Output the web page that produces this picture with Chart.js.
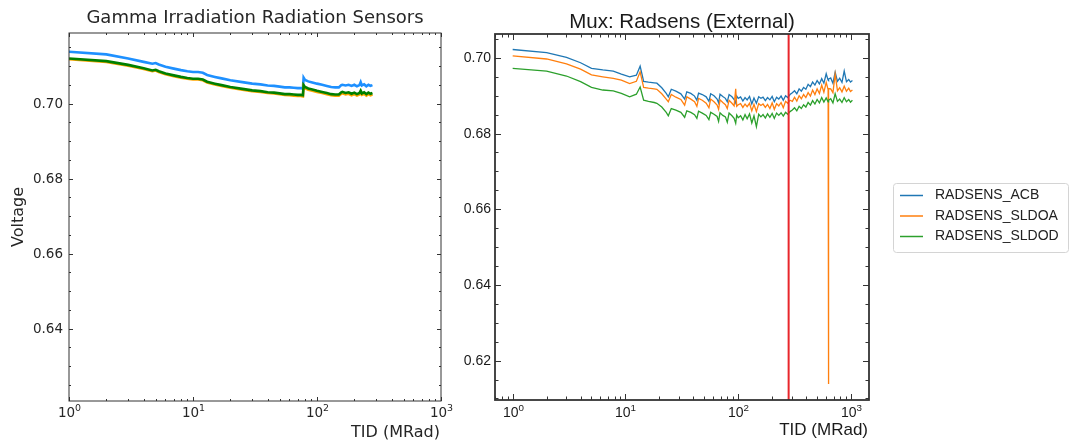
<!DOCTYPE html>
<html>
<head>
<meta charset="utf-8">
<script src="https://cdn.jsdelivr.net/npm/chart.js@4.4.1/dist/chart.umd.min.js"></script>
<style>
  html, body { margin: 0; padding: 0; background: #fff; }
  #marco { position: relative; width: 1070px; height: 443px; }
  canvas { position: absolute; left: 0; top: 0; }
</style>
</head>
<body>
<div id="marco">
  <canvas id="graficaIzq" width="1070" height="443"></canvas>
  <canvas id="graficaDer" width="1070" height="443"></canvas>
</div>
<script>
// ---- datos grafica izquierda (Gamma Irradiation) ----
const dosisIzq = [
  1, 2, 3, 4, 4.7, 5, 5.3, 6, 7, 8,
  9, 10, 11, 12, 13, 15, 17, 20, 25, 30,
  35, 40, 45, 50, 55, 60, 65, 70, 74, 77,
  78, 80, 85, 90, 95, 100, 110, 120, 130, 140,
  150, 157, 160, 170, 180, 190, 200, 210, 220, 225,
  230, 240, 250, 260, 270, 280
];
const azulIzq = [
  .7138, .7131, .7120, .7111, .7106, .7108, .7104, .7098, .7093, .7089,
  .7086, .7084, .7084, .7082, .7076, .7071, .7067, .7062, .7057, .7053,
  .7051, .7048, .7047, .7045, .7043, .7043, .7042, .7041, .7041, .7040,
  .7069, .7063, .7059, .7057, .7055, .7053, .7050, .7047, .7044, .7043,
  .7043, .7049, .7050, .7048, .7050, .7047, .7050, .7046, .7049, .7057,
  .7048, .7051, .7046, .7050, .7047, .7049
];
const naranjaIzq = [
  .7118, .7111, .7101, .7092, .7086, .7088, .7084, .7078, .7073, .7069,
  .7066, .7064, .7064, .7062, .7056, .7051, .7047, .7042, .7037, .7033,
  .7031, .7028, .7027, .7025, .7023, .7022, .7021, .7020, .7020, .7019,
  .7046, .7041, .7037, .7035, .7033, .7031, .7028, .7025, .7022, .7021,
  .7021, .7026, .7027, .7024, .7026, .7022, .7025, .7021, .7024, .7028,
  .7023, .7026, .7021, .7025, .7022, .7024
];
const verdeIzq = [
  .7120, .7113, .7103, .7094, .7088, .7090, .7086, .7080, .7075, .7071,
  .7068, .7066, .7066, .7064, .7058, .7053, .7049, .7044, .7039, .7035,
  .7033, .7030, .7029, .7027, .7025, .7025, .7024, .7023, .7023, .7022,
  .7049, .7044, .7040, .7038, .7036, .7034, .7031, .7028, .7025, .7024,
  .7024, .7030, .7031, .7028, .7030, .7026, .7029, .7025, .7028, .7034,
  .7027, .7030, .7025, .7029, .7026, .7028
];
const ticksYIzq = [0.64, 0.66, 0.68, 0.70];

// ---- datos grafica derecha (Mux: Radsens) ----
const dosisDer = [
  1, 2, 3, 4, 5, 6.3, 7.8, 9.2, 10.9, 12.5,
  13.5, 14.5, 16, 18, 19, 21, 23, 24, 25.5, 28,
  31, 33.5, 35, 38, 41, 43, 44.5, 48, 52, 55,
  57, 61, 65, 67, 69, 73, 77, 80, 83, 88,
  92, 95, 97, 100, 105, 110, 115, 120, 126, 132,
  138, 145, 152, 159, 166, 174, 182, 191, 200, 209,
  219, 229, 240, 251, 263, 275, 288, 302, 316, 331,
  347, 363, 380, 398, 417, 437, 457, 479, 501, 525,
  550, 575, 603, 627, 631, 635, 661, 692, 724, 759, 794, 832,
  871, 912, 955, 990, 1030
];
const radsensACB = [
  .7022, .7014, .7001, .6987, .6972, .6968, .6965, .6957, .6950, .6954,
  .6978, .6938, .6936, .6934, .6933, .6921, .6906, .6897, .6917, .6912,
  .6905, .6891, .6910, .6906, .6899, .6888, .6907, .6903, .6897, .6885,
  .6905, .6900, .6891, .6881, .6904, .6898, .6893, .6884, .6903, .6897,
  .6890, .6881, .6899, .6893, .6897, .6886, .6895, .6889, .6898, .6878,
  .6894, .6880, .6897, .6893, .6896, .6887, .6895, .6889, .6898, .6884,
  .6896, .6891, .6899, .6888, .6900, .6895, .6903, .6908, .6913, .6905,
  .6918, .6912, .6922, .6917, .6930, .6924, .6936, .6928, .6940, .6931,
  .6945, .6933, .6958, .6941, .6940, .6944, .6947, .6933, .6962, .6938, .6946, .6935,
  .6965, .6937, .6943, .6936, .6940
];
const radsensSLDOA = [
  .7005, .6997, .6984, .6970, .6955, .6950, .6946, .6941, .6932, .6938,
  .6963, .6922, .6920, .6918, .6917, .6905, .6891, .6884, .6903, .6896,
  .6890, .6875, .6897, .6891, .6884, .6872, .6893, .6888, .6880, .6868,
  .6891, .6884, .6875, .6864, .6889, .6882, .6876, .6866, .6888, .6880,
  .6873, .6918, .6872, .6876, .6879, .6869, .6878, .6871, .6880, .6860,
  .6877, .6858, .6879, .6874, .6878, .6869, .6877, .6866, .6881, .6864,
  .6879, .6873, .6882, .6868, .6885, .6880, .6888, .6885, .6896, .6886,
  .6900, .6892, .6903, .6895, .6908, .6899, .6915, .6903, .6918, .6906,
  .6928, .6909, .6935, .6916, .6138, .6919, .6918, .6908, .6957, .6913, .6921, .6910,
  .6925, .6912, .6920, .6911, .6915
];
const radsensSLDOD = [
  .6972, .6965, .6952, .6937, .6922, .6915, .6913, .6906, .6897, .6904,
  .6923, .6888, .6885, .6882, .6880, .6870, .6856, .6847, .6866, .6862,
  .6856, .6843, .6860, .6856, .6850, .6840, .6859, .6854, .6848, .6837,
  .6856, .6851, .6845, .6832, .6855, .6848, .6844, .6830, .6854, .6847,
  .6840, .6827, .6849, .6842, .6847, .6836, .6850, .6839, .6852, .6828,
  .6847, .6818, .6851, .6844, .6850, .6841, .6852, .6843, .6853, .6840,
  .6854, .6848, .6855, .6846, .6856, .6851, .6858, .6862, .6868, .6860,
  .6872, .6866, .6876, .6870, .6882, .6875, .6887, .6878, .6890, .6881,
  .6895, .6883, .6894, .6884, .6886, .6888, .6892, .6881, .6905, .6885, .6891, .6882,
  .6895, .6884, .6890, .6883, .6888
];
const ticksYDer = [0.62, 0.64, 0.66, 0.68, 0.70];
const lineaRoja = [280]; // marca vertical
const ticksX = [1, 10, 100, 1000];

// junta x e y para chart.js
const pares = (xs, ys) => xs.map((x, i) => ({ x: x, y: ys[i] }));

function linea(ctx, x1, y1, x2, y2) {
  ctx.beginPath();
  ctx.moveTo(x1, y1);
  ctx.lineTo(x2, y2);
  ctx.stroke();
}

// etiqueta tipo 10^n
function potencia(ctx, px, y, exp, fuente, tam) {
  ctx.font = tam + "px " + fuente;
  const wBase = ctx.measureText("10").width;
  const tamExp = tam * 0.7;
  ctx.font = tamExp + "px " + fuente;
  const wExp = ctx.measureText(String(exp)).width;
  const x0 = px - (wBase + wExp) / 2;
  ctx.textAlign = "left";
  ctx.textBaseline = "alphabetic";
  ctx.font = tam + "px " + fuente;
  ctx.fillText("10", x0, y);
  ctx.font = tamExp + "px " + fuente;
  ctx.fillText(String(exp), x0 + wBase, y - tam * 0.44);
}

// plugin que dibuja marco, ticks hacia dentro, textos y leyenda
const pluginEjes = {
  id: "ejes",
  afterDatasetsDraw(chart, args, o) {
    const ctx = chart.ctx;
    const a = chart.chartArea;
    const sx = chart.scales.x;
    const sy = chart.scales.y;
    ctx.save();

    (o.marcas || []).forEach((v) => {
      const px = sx.getPixelForValue(v);
      ctx.strokeStyle = "#e8262b";
      ctx.lineWidth = 2;
      linea(ctx, px, a.top, px, a.bottom);
    });

    ctx.strokeStyle = o.colorEje;
    ctx.fillStyle = o.colorTexto;
    ctx.lineWidth = 1;

    // y menores
    const k0 = Math.ceil(sy.min / 0.005 - 1e-6);
    const k1 = Math.floor(sy.max / 0.005 + 1e-6);
    for (let k = k0; k <= k1; k++) {
      const py = Math.round(sy.getPixelForValue(k * 0.005)) + 0.5;
      linea(ctx, a.left, py, a.left + o.menor, py);
      linea(ctx, a.right, py, a.right - o.menor, py);
    }
    // y mayores
    ctx.font = o.tamTick + "px " + o.fuente;
    ctx.textAlign = "right";
    ctx.textBaseline = "middle";
    o.ticksY.forEach((v) => {
      const py = Math.round(sy.getPixelForValue(v)) + 0.5;
      linea(ctx, a.left, py, a.left + o.mayor, py);
      linea(ctx, a.right, py, a.right - o.mayor, py);
      ctx.fillText(v.toFixed(2), a.left - o.sepY, py);
    });

    // x menores (log)
    const d0 = Math.floor(Math.log10(sx.min));
    const d1 = Math.ceil(Math.log10(sx.max));
    for (let d = d0; d <= d1; d++) {
      for (let m = 2; m <= 9; m++) {
        const v = m * Math.pow(10, d);
        if (v < sx.min || v > sx.max) continue;
        const px = Math.round(sx.getPixelForValue(v)) + 0.5;
        linea(ctx, px, a.bottom, px, a.bottom - o.menor);
        linea(ctx, px, a.top, px, a.top + o.menor);
      }
    }
    ticksX.forEach((v) => {
      const px = Math.round(sx.getPixelForValue(v)) + 0.5;
      linea(ctx, px, a.bottom, px, a.bottom - o.mayor);
      linea(ctx, px, a.top, px, a.top + o.mayor);
      potencia(ctx, px, o.baseX, Math.round(Math.log10(v)), o.fuente, o.tamTick);
    });

    // marco
    ctx.lineWidth = o.grosorMarco;
    ctx.strokeRect(a.left, a.top, a.right - a.left, a.bottom - a.top);

    // titulos
    ctx.fillStyle = o.colorTexto;
    ctx.textBaseline = "alphabetic";
    ctx.textAlign = "center";
    ctx.font = o.tamTitulo + "px " + o.fuente;
    ctx.fillText(o.titulo, (a.left + a.right) / 2, o.baseTitulo);
    ctx.textAlign = "right";
    ctx.font = o.tamEje + "px " + o.fuente;
    ctx.fillText("TID (MRad)", a.right - 1, o.baseTituloX);

    if (o.tituloY) {
      ctx.save();
      ctx.translate(o.xTituloY, (a.top + a.bottom) / 2);
      ctx.rotate(-Math.PI / 2);
      ctx.textAlign = "center";
      ctx.textBaseline = "middle";
      ctx.fillText(o.tituloY, 0, 0);
      ctx.restore();
    }

    // leyenda
    if (o.leyenda) {
      const L = o.leyenda;
      ctx.fillStyle = "#fff";
      ctx.strokeStyle = "#d4d4d4";
      ctx.lineWidth = 1;
      ctx.beginPath();
      ctx.roundRect(L.x + 0.5, L.y + 0.5, L.w, L.h, 3);
      ctx.fill();
      ctx.stroke();
      ctx.font = "14px 'Liberation Sans', Arial, sans-serif";
      ctx.textAlign = "left";
      ctx.textBaseline = "middle";
      chart.data.datasets.forEach((ds, i) => {
        const y = L.y + 12.5 + i * 20.5;
        ctx.strokeStyle = ds.borderColor;
        ctx.lineWidth = 1.5;
        linea(ctx, L.x + 7, y, L.x + 30, y);
        ctx.fillStyle = "#222";
        ctx.fillText(ds.label, L.x + 42, y);
      });
    }
    ctx.restore();
  }
};

new Chart(document.getElementById("graficaIzq"), {
  type: "line",
  data: {
    datasets: [
      { label: "azul", data: pares(dosisIzq, azulIzq), borderColor: "#1e90ff", borderWidth: 2.6, order: 3 },
      { label: "naranja", data: pares(dosisIzq, naranjaIzq), borderColor: "#ffa500", borderWidth: 2.6, order: 2 },
      { label: "verde", data: pares(dosisIzq, verdeIzq), borderColor: "#008000", borderWidth: 2.6, order: 1 }
    ]
  },
  options: {
    responsive: false,
    animation: false,
    elements: { point: { radius: 0 }, line: { tension: 0 } },
    layout: { padding: { left: 69, top: 33, right: 629, bottom: 42 } },
    scales: {
      x: { type: "logarithmic", min: 1, max: 1000, display: false },
      y: { type: "linear", min: 0.6207, max: 0.7188, display: false }
    },
    plugins: {
      legend: { display: false },
      tooltip: { enabled: false },
      ejes: {
        fuente: "'DejaVu Sans', sans-serif",
        colorEje: "#333",
        colorTexto: "#262626",
        grosorMarco: 1,
        mayor: 4,
        menor: 2,
        tamTick: 13.5,
        sepY: 6,
        baseX: 417,
        ticksY: ticksYIzq,
        tamTitulo: 18,
        titulo: "Gamma Irradiation Radiation Sensors",
        baseTitulo: 23,
        tamEje: 16,
        baseTituloX: 437,
        tituloY: "Voltage",
        xTituloY: 19
      }
    }
  },
  plugins: [pluginEjes]
});

new Chart(document.getElementById("graficaDer"), {
  type: "line",
  data: {
    datasets: [
      { label: "RADSENS_ACB", data: pares(dosisDer, radsensACB), borderColor: "#1f77b4", borderWidth: 1.3, order: 3 },
      { label: "RADSENS_SLDOA", data: pares(dosisDer, radsensSLDOA), borderColor: "#ff7f0e", borderWidth: 1.3, order: 2 },
      { label: "RADSENS_SLDOD", data: pares(dosisDer, radsensSLDOD), borderColor: "#2ca02c", borderWidth: 1.3, order: 1 }
    ]
  },
  options: {
    responsive: false,
    animation: false,
    elements: { point: { radius: 0 }, line: { tension: 0 } },
    layout: { padding: { left: 495, top: 34, right: 201, bottom: 43 } },
    scales: {
      x: { type: "logarithmic", min: 0.697, max: 1445, display: false },
      y: { type: "linear", min: 0.6096, max: 0.7063, display: false }
    },
    plugins: {
      legend: { display: false },
      tooltip: { enabled: false },
      ejes: {
        fuente: "'Liberation Sans', Arial, sans-serif",
        colorEje: "#333",
        colorTexto: "#1a1a1a",
        grosorMarco: 1.8,
        mayor: 6,
        menor: 3.5,
        tamTick: 14,
        sepY: 4,
        baseX: 417,
        ticksY: ticksYDer,
        tamTitulo: 20.5,
        titulo: "Mux: Radsens (External)",
        baseTitulo: 28,
        tamEje: 17,
        baseTituloX: 435,
        marcas: lineaRoja,
        leyenda: { x: 893, y: 183, w: 175, h: 69 }
      }
    }
  },
  plugins: [pluginEjes]
});
</script>
</body>
</html>
